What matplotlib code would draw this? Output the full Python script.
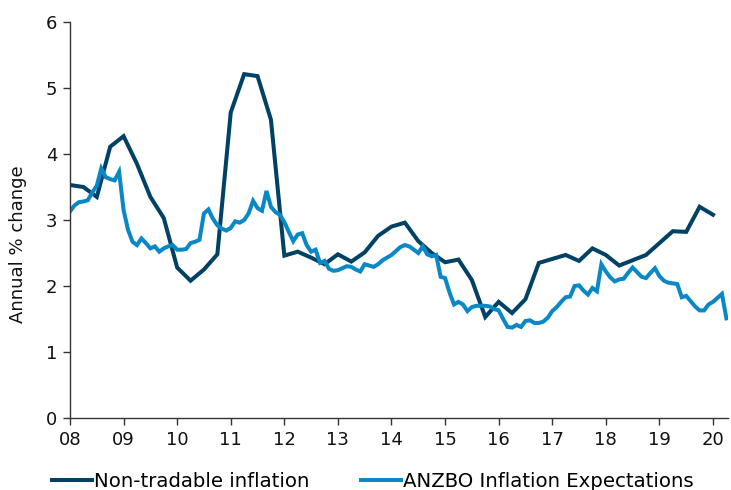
import matplotlib
matplotlib.use("Agg")
import matplotlib.pyplot as plt
import numpy as np

# Non-tradable inflation (quarterly, annual % change)
nontradable = [3.53, 3.50, 3.35, 4.11, 4.27, 3.85, 3.35, 3.03,
               2.28, 2.08, 2.25, 2.48, 4.63, 5.21, 5.18, 4.52,
               2.46, 2.52, 2.43, 2.33, 2.48, 2.37, 2.51, 2.76,
               2.90, 2.96, 2.68, 2.50, 2.36, 2.40, 2.09, 1.53,
               1.76, 1.59, 1.80, 2.35, 2.41, 2.47, 2.38, 2.57,
               2.47, 2.31, 2.39, 2.47, 2.65, 2.83, 2.82, 3.20,
               3.08]

# ANZBO inflation expectations (monthly)
anzbo = [3.13, 3.22, 3.27, 3.28, 3.30, 3.42, 3.52, 3.78, 3.65, 3.62, 3.60, 3.73, 3.15,
         2.85, 2.67, 2.62, 2.72, 2.65, 2.57, 2.60, 2.52, 2.57, 2.60, 2.62, 2.55, 2.55,
         2.56, 2.65, 2.67, 2.70, 3.10, 3.16, 3.02, 2.92, 2.87, 2.84, 2.88, 2.98, 2.96,
         3.00, 3.10, 3.29, 3.18, 3.14, 3.44, 3.20, 3.12, 3.08, 2.97, 2.82, 2.68, 2.78,
         2.80, 2.62, 2.52, 2.55, 2.35, 2.38, 2.26, 2.23, 2.24, 2.27, 2.30, 2.29, 2.25,
         2.22, 2.33, 2.31, 2.29, 2.33, 2.39, 2.43, 2.47, 2.53, 2.59, 2.62, 2.60, 2.55,
         2.50, 2.60, 2.48, 2.45, 2.47, 2.14, 2.12, 1.90, 1.72, 1.76, 1.72, 1.62, 1.68,
         1.70, 1.70, 1.70, 1.69, 1.65, 1.63, 1.50, 1.38, 1.37, 1.41, 1.38, 1.47,
         1.48, 1.44, 1.44, 1.46, 1.52, 1.62, 1.68, 1.76, 1.83, 1.84, 2.00, 2.01, 1.93,
         1.87, 1.97, 1.92, 2.33, 2.22, 2.13, 2.07, 2.10, 2.11,
         2.20, 2.28, 2.21, 2.14, 2.12, 2.20, 2.27, 2.15, 2.08, 2.05, 2.04, 2.03, 1.83,
         1.85, 1.77, 1.69, 1.63, 1.63, 1.72, 1.76, 1.82, 1.88, 1.51]

year_ticks = list(range(2008, 2021))
tick_labels = ["08", "09", "10", "11", "12", "13", "14", "15", "16", "17", "18", "19", "20"]
y_ticks = [0, 1, 2, 3, 4, 5, 6]

x_nt = 2008 + np.arange(len(nontradable)) / 4.0
x_an = 2008 + np.arange(len(anzbo)) / 12.0

DARK = "#004166"
LIGHT = "#0A88C6"

plt.rcParams['font.family'] = ['DejaVu Sans']
fig = plt.figure(figsize=(7.31, 4.90), dpi=100)
ax = fig.add_axes([70 / 731, 72 / 490, 658 / 731, 396 / 490])

ax.plot(x_nt, nontradable, color=DARK, lw=2.9, label="Non-tradable inflation", solid_joinstyle='miter')
ax.plot(x_an, anzbo, color=LIGHT, lw=2.9, label="ANZBO Inflation Expectations", solid_joinstyle='miter')

ax.set_xlim(2008, 2020.28)
ax.set_ylim(0, 6)
ax.set_xticks(year_ticks)
ax.set_xticklabels(tick_labels)
ax.set_yticks(y_ticks)
for s in ["top", "right"]:
    ax.spines[s].set_visible(False)
for s in ["left", "bottom"]:
    ax.spines[s].set_color("#333333")
    ax.spines[s].set_linewidth(1.0)
ax.tick_params(axis='both', direction='out', length=5, width=1, color="#333333",
               labelsize=13, labelcolor="#111111", pad=4)
ax.set_ylabel("Annual % change", fontsize=13, color="#111111")
ax.yaxis.set_label_coords(-0.066, 0.44)

fig.legend(loc='center', bbox_to_anchor=(0.51, 0.018), ncol=2, frameon=False,
           fontsize=14.2, handlelength=2.05, handletextpad=0.1, columnspacing=2.6)

fig.savefig("out.png", dpi=100)
